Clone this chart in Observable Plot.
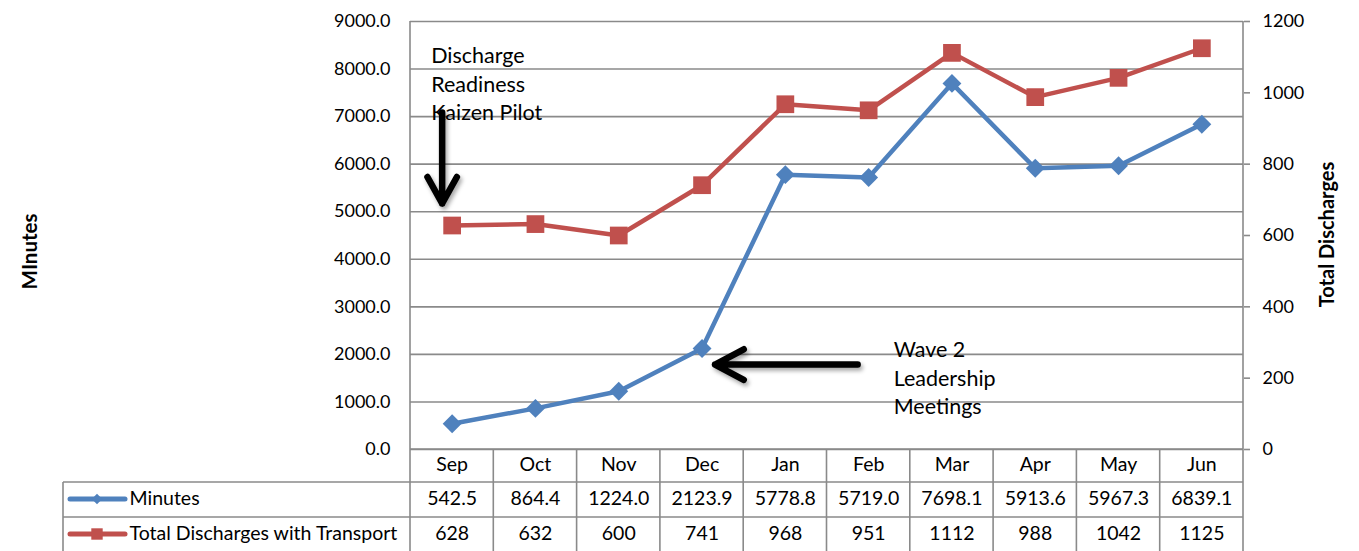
<!DOCTYPE html>
<html><head><meta charset="utf-8">
<script src="https://cdn.jsdelivr.net/npm/d3@7"></script>
<script src="https://cdn.jsdelivr.net/npm/@observablehq/plot@0.6"></script>
<style>
body{margin:0;background:#fff} svg{display:block}
g[aria-label="arrow"] path{filter:drop-shadow(2px 3px 2px rgba(0,0,0,0.35))}
</style>
</head><body><div id="chart"></div>
<script>
const months = ["Sep","Oct","Nov","Dec","Jan","Feb","Mar","Apr","May","Jun"];
const minutes = [542.5,864.4,1224.0,2123.9,5778.8,5719.0,7698.1,5913.6,5967.3,6839.1];
const discharges = [628,632,600,741,968,951,1112,988,1042,1125];
const seriesNames = ["Minutes","Total Discharges with Transport"];
const leftTicks = [0,1000,2000,3000,4000,5000,6000,7000,8000,9000];
const rightTicks = [0,200,400,600,800,1000,1200];
const leftTitle = "MInutes";
const rightTitle = "Total Discharges";
const note1 = "Discharge\nReadiness\nKaizen Pilot";
const note2 = "Wave 2\nLeadership\nMeetings";

const ratio = 9000 / 1200;
const blue = "#4F81BD", red = "#C0504D", gray = "#8A8A8A";
const font = "Lato";
const tableFont = 19.5;

const rows = months.map((m, i) => ({month: m, minutes: minutes[i], discharges: discharges[i], scaled: discharges[i] * ratio}));

// table grid + legend swatches, positioned from the x scale and frame
function tableGrid(index, scales, values, dims) {
  const {width, height, marginLeft, marginRight, marginTop, marginBottom} = dims;
  const x0 = marginLeft, x1 = width - marginRight, yb = height - marginBottom;
  const rowY = [yb, yb + 33, yb + 68, height + 2];
  const tableLeft = 63;
  const g = d3.create("svg:g").attr("stroke", gray).attr("stroke-width", 1.6).attr("fill", "none");
  g.append("line").attr("x1", x0).attr("x2", x0).attr("y1", marginTop).attr("y2", rowY[3]);
  g.append("line").attr("x1", x1).attr("x2", x1).attr("y1", marginTop).attr("y2", rowY[3]);
  months.slice(1).forEach(m => {
    const cx = scales.x(m);
    g.append("line").attr("x1", cx).attr("x2", cx).attr("y1", rowY[0]).attr("y2", rowY[3]);
  });
  g.append("line").attr("x1", tableLeft).attr("x2", tableLeft).attr("y1", rowY[1]).attr("y2", rowY[3]);
  g.append("line").attr("x1", x0).attr("x2", x1).attr("y1", rowY[0]).attr("y2", rowY[0]);
  [1, 2].forEach(k => g.append("line").attr("x1", tableLeft).attr("x2", x1).attr("y1", rowY[k]).attr("y2", rowY[k]));
  const sw = [[blue, yb + 50, d3.symbolDiamond2, 70], [red, yb + 85, d3.symbolSquare, 130]];
  sw.forEach(([c, y, sym, size]) => {
    g.append("line").attr("x1", 70).attr("x2", 125).attr("y1", y).attr("y2", y).attr("stroke", c).attr("stroke-width", 5).attr("stroke-linecap", "round");
    g.append("path").attr("d", d3.symbol(sym, size)()).attr("transform", `translate(97,${y})`).attr("fill", c).attr("stroke", "none");
  });
  return g.node();
}

const chart = Plot.plot({
  width: 1359,
  height: 551,
  marginLeft: 410,
  marginRight: 116,
  marginTop: 21,
  marginBottom: 102,
  style: {fontFamily: font, color: "black", background: "white", overflow: "visible"},
  x: {type: "band", domain: months, padding: 0, round: false, axis: null},
  y: {domain: [0, 9000], axis: null},
  marks: [
    Plot.gridY(leftTicks, {stroke: gray, strokeOpacity: 1, strokeWidth: 1.6}),
    Plot.axisY(leftTicks, {anchor: "left", tickSize: 0, tickPadding: 20, tickFormat: d => d.toFixed(1), fontSize: 18, label: null}),
    Plot.axisY(rightTicks.map(d => d * ratio), {anchor: "right", tickSize: 6, tickPadding: 13, tickFormat: d => String(Math.round(d / ratio)), stroke: gray, strokeWidth: 1.6, fontSize: 18, label: null}),
    tableGrid,
    Plot.line(rows, {x: "month", y: "scaled", stroke: red, strokeWidth: 4.5}),
    Plot.dot(rows, {x: "month", y: "scaled", symbol: "square", r: 10, fill: red}),
    Plot.line(rows, {x: "month", y: "minutes", stroke: blue, strokeWidth: 4.5}),
    Plot.dot(rows, {x: "month", y: "minutes", symbol: "diamond2", r: 8.5, fill: blue}),
    // annotations
    Plot.text([note1], {x: () => "Sep", y: () => 7717, text: d => d, textAnchor: "start", dx: -21, fontSize: 21.5, lineHeight: 1.33}),
    Plot.text([note2], {x: () => "Feb", y: () => 1535, text: d => d, textAnchor: "start", dx: 25, fontSize: 21.5, lineHeight: 1.33}),
    Plot.arrow([0], {x1: () => "Sep", x2: () => "Sep", y1: () => 7086, y2: () => 5173, dx: -10, stroke: "black", strokeWidth: 6.5, headLength: 7.5, headAngle: 58, bend: 0, strokeLinecap: "round", strokeLinejoin: "round"}),
    Plot.arrow([0], {x1: () => "Feb", x2: () => "Dec", y1: () => 1787, y2: () => 1787, insetStart: 11, insetEnd: 13, stroke: "black", strokeWidth: 6.5, headLength: 7.5, headAngle: 56, bend: 0, strokeLinecap: "round", strokeLinejoin: "round"}),
    // axis titles
    Plot.text([leftTitle], {frameAnchor: "left", text: d => d, rotate: -90, textAnchor: "middle", dx: -380, dy: 16, fontSize: 20.5, fontWeight: "bold"}),
    Plot.text([rightTitle], {frameAnchor: "right", text: d => d, rotate: -90, textAnchor: "middle", dx: 84, dy: -1, fontSize: 20, fontWeight: "bold"}),
    // data table text
    Plot.text(months, {x: d => d, frameAnchor: "bottom", dy: 21.5, fontSize: tableFont}),
    Plot.text(rows, {x: "month", text: d => d.minutes.toFixed(1), frameAnchor: "bottom", dy: 55.5, fontSize: tableFont}),
    Plot.text(rows, {x: "month", text: d => String(d.discharges), frameAnchor: "bottom", dy: 90, fontSize: tableFont}),
    Plot.text([seriesNames[0]], {frameAnchor: "bottom-left", text: d => d, textAnchor: "start", dx: -281, dy: 55.5, fontSize: tableFont}),
    Plot.text([seriesNames[1]], {frameAnchor: "bottom-left", text: d => d, textAnchor: "start", dx: -281, dy: 90, fontSize: tableFont})
  ]
});
document.getElementById("chart").appendChild(chart);
</script>
</body></html>
